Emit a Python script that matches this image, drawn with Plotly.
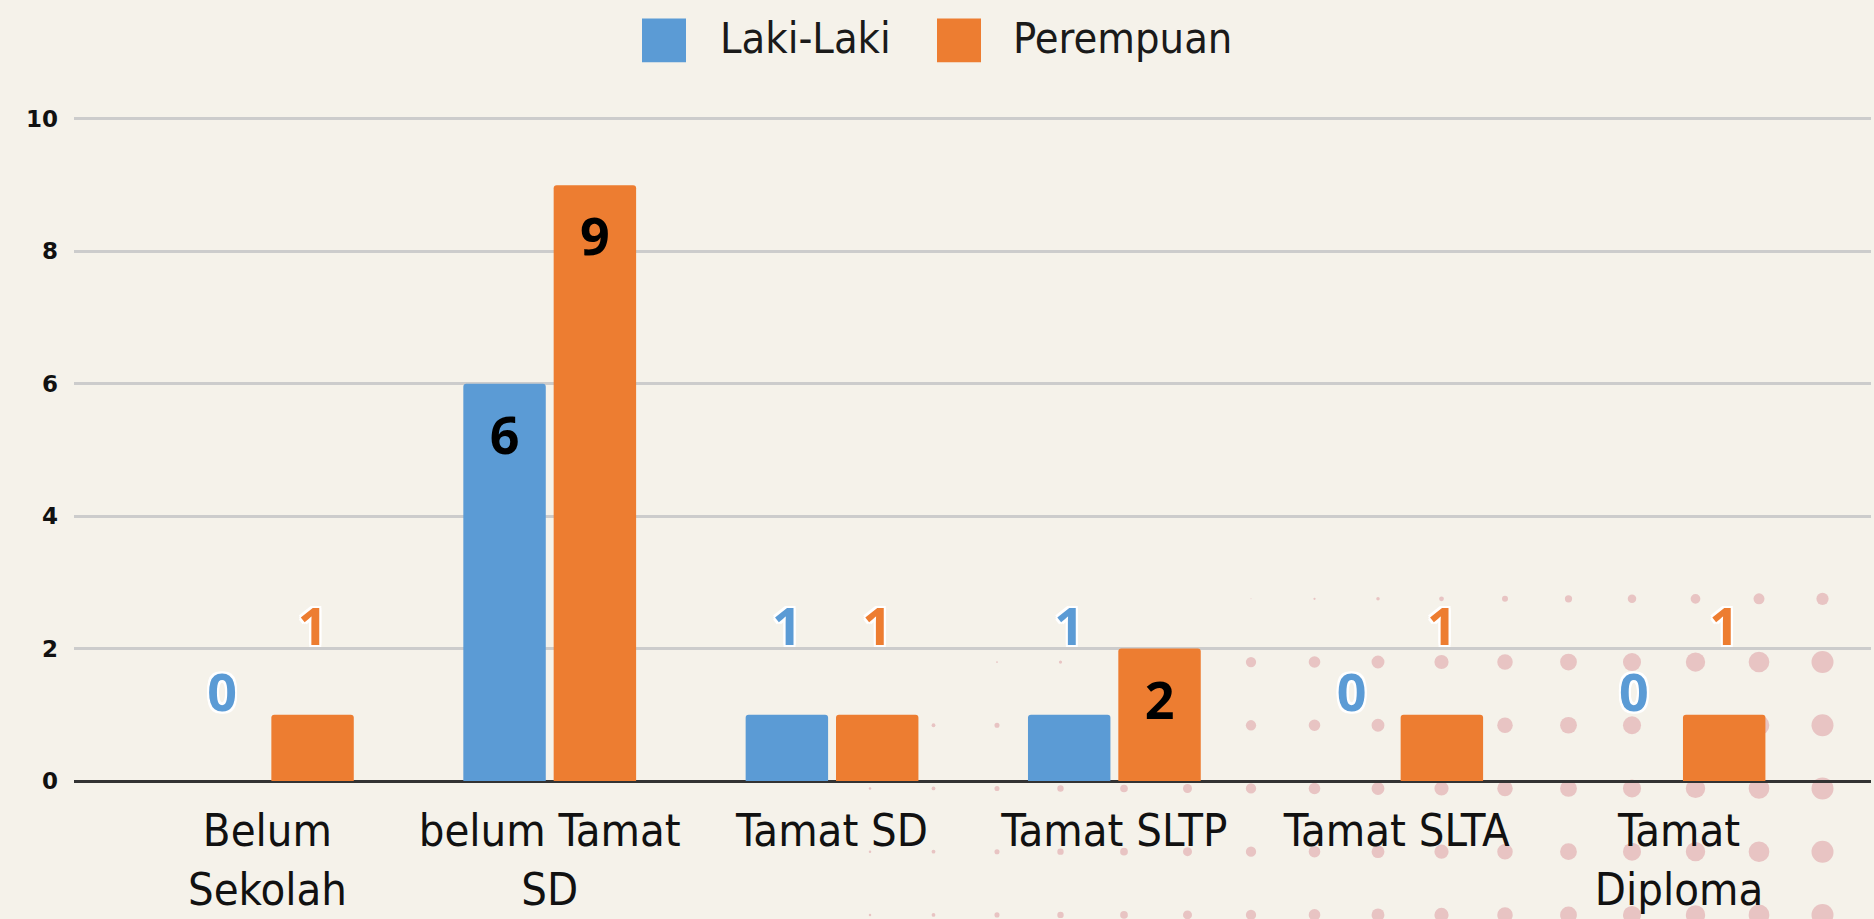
import plotly.graph_objects as go

# ---- data ----
categories = ["Belum<br>Sekolah", "belum Tamat<br>SD", "Tamat SD", "Tamat SLTP", "Tamat SLTA", "Tamat<br>Diploma"]
laki_laki = [0, 6, 1, 1, 0, 0]
perempuan = [1, 9, 1, 2, 1, 1]
series_names = ["Laki-Laki", "Perempuan"]
y_ticks = [0, 2, 4, 6, 8, 10]

# ---- style ----
W, H = 1874, 919
ML, MR, MT, MB = 74, 3, 116, 135
UNIT = (H - MB - 119) / 10
Y_TOP = 10 + (119 - MT) / UNIT
BG = "#f5f2ea"
BLUE = "#5b9bd5"
ORANGE = "#ed7d31"
DOT = "#e8c4c3"
COND = "DejaVu Sans Condensed, Liberation Sans Narrow, Arial Narrow, sans-serif"
NUMF = "Open Sans, Noto Sans, sans-serif"

PW = W - ML - MR
PH = H - MT - MB


def xp(px):
    return (px - ML) / PW


def yp(py):
    return (H - MB - py) / PH


idx = list(range(len(categories)))
BAR_W = 0.292
OFFS = [-0.16, 0.16]
values = [laki_laki, perempuan]
colors = [BLUE, ORANGE]

fig = go.Figure()

for s, (name, vals, col) in enumerate(zip(series_names, values, colors)):
    fig.add_trace(go.Bar(
        x=idx, y=vals, name=name, marker_color=col, marker_line_width=0,
        width=BAR_W, offset=OFFS[s] - BAR_W / 2, showlegend=False,
        hoverinfo="skip",
    ))

shadow = ", ".join(f"{a}px {b}px 0 #ffffff" for a, b in
                   [(2, 0), (-2, 0), (0, 2), (0, -2), (2, 2), (-2, -2), (2, -2), (-2, 2)])

for s, (vals, col) in enumerate(zip(values, colors)):
    inside = [(i, v) for i, v in zip(idx, vals) if v >= 2]
    outside = [(i, v) for i, v in zip(idx, vals) if v < 2]
    if outside:
        fig.add_trace(go.Scatter(
            x=[i + OFFS[s] for i, v in outside], y=[v + 1.25 for i, v in outside],
            text=[str(v) for i, v in outside], mode="text", showlegend=False,
            textfont=dict(family=NUMF, size=52, color=col, weight=700, shadow=shadow),
            cliponaxis=False, hoverinfo="skip",
        ))
    if inside:
        fig.add_trace(go.Scatter(
            x=[i + OFFS[s] for i, v in inside], y=[v - 0.86 for i, v in inside],
            text=[str(v) for i, v in inside], mode="text", showlegend=False,
            textfont=dict(family=NUMF, size=52, color="#000000", weight=700),
            cliponaxis=False, hoverinfo="skip",
        ))

# ---- decorative dot pattern (background) ----
shapes = []
STEP = 63.5
for k in range(16):
    cx = 870 + STEP * k
    for r in range(6):
        cy = 601 + STEP * r
        if r == 0:
            d = 1.25 * (k - 5.2)
        elif r == 1:
            d = min(2.5 + 1.3 * k, 1.4 * k - 1.0 if k < 5 else 99)
        else:
            d = 2.5 + 1.3 * k
        if d <= 0.6:
            continue
        rad = d / 2
        shapes.append(dict(
            type="circle", xref="paper", yref="paper", layer="below",
            x0=xp(cx - rad), x1=xp(cx + rad), y0=yp(cy + rad), y1=yp(cy - rad),
            fillcolor=DOT, line_width=0,
        ))

# ---- custom legend ----
annotations = []
legend_items = [(series_names[0], BLUE, 642, 718), (series_names[1], ORANGE, 937, 1011)]
for name, col, sx, tx in legend_items:
    shapes.append(dict(
        type="rect", xref="paper", yref="paper",
        x0=xp(sx), x1=xp(sx + 44), y0=yp(62), y1=yp(18),
        fillcolor=col, line_width=0,
    ))
    annotations.append(dict(
        text=name, xref="paper", yref="paper", x=xp(tx), y=yp(38),
        xanchor="left", yanchor="middle", showarrow=False,
        font=dict(family=COND, size=43, color="#1a1a1a"),
    ))

fig.update_layout(
    width=W, height=H,
    margin=dict(l=ML, r=MR, t=MT, b=MB, pad=0),
    paper_bgcolor=BG, plot_bgcolor="rgba(0,0,0,0)",
    barmode="overlay", barcornerradius=3,
    showlegend=False,
    shapes=shapes,
    annotations=annotations,
    xaxis=dict(
        range=[-0.685, 5.68], tickmode="array", tickvals=idx, ticktext=categories,
        showgrid=False, zeroline=False, showline=False, ticks="",
        tickfont=dict(family=COND, size=45, color="#111111"),
        ticklabelstandoff=19, fixedrange=True,
    ),
    yaxis=dict(
        range=[0, Y_TOP], tickmode="array", tickvals=y_ticks,
        showgrid=True, gridcolor="#cccccc", gridwidth=3,
        zeroline=True, zerolinecolor="#333333", zerolinewidth=3,
        showline=False, ticks="",
        tickfont=dict(family="DejaVu Sans, sans-serif", size=23, color="#111111", weight="bold"),
        ticklabelstandoff=15, fixedrange=True,
    ),
)

fig.write_html(
    "out.html",
    config={"displayModeBar": False},
    post_script="document.body.style.margin='0';document.body.style.background='" + BG + "';",
)
